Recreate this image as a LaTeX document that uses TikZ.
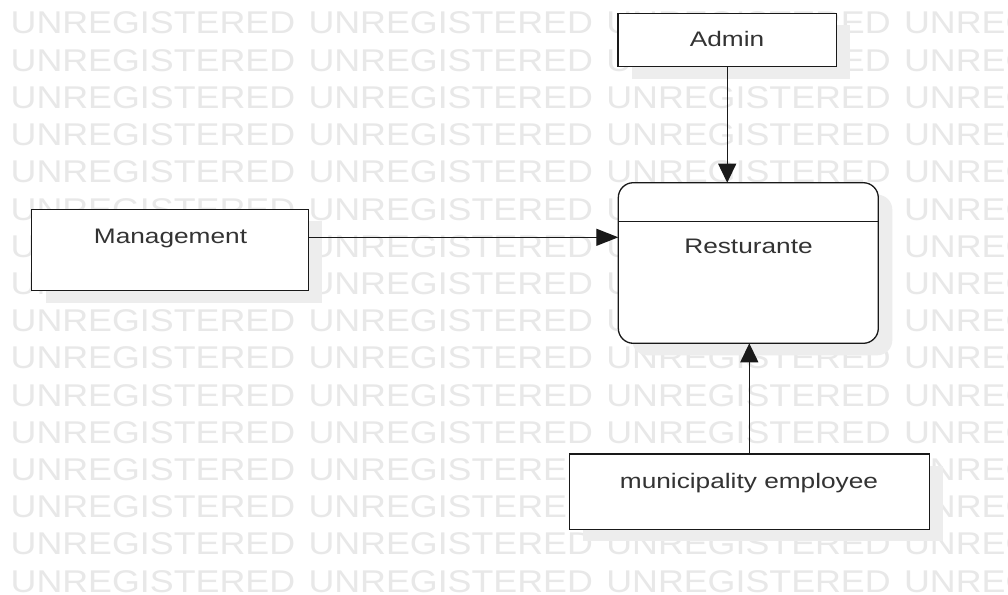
\documentclass[tikz,border=0pt]{standalone}
\usepackage{fontspec}
\setmainfont{Liberation Sans}
\usetikzlibrary{arrows.meta,shadows}

\tikzset{
  wmark/.style={anchor=base west, inner sep=0pt, text=black!9,
    font=\fontsize{31.4}{36}\selectfont},
  entity/.style={draw=black!90, fill=white, line width=1.3pt, inner sep=0pt,
    outer sep=0pt,
    drop shadow={shadow xshift=14pt, shadow yshift=-12pt, fill=black!7, opacity=1}},
  lbl/.style={anchor=base, inner sep=0pt, text=black!80,
    font=\fontsize{21}{25}\selectfont},
  flow/.style={draw=black!90, line width=1.3pt},
  vhead/.style={flow, -{Triangle[length=19pt, width=18pt]}},
  hhead/.style={flow, -{Triangle[length=22pt, width=17pt]}},
}
\newcommand{\stretchtext}[2]{\scalebox{#1}[1]{#2}}

\begin{document}
\begin{tikzpicture}[x=1pt, y=-1pt]
  \useasboundingbox (0,0) rectangle (1008,594);
  \fill[white] (0,0) rectangle (1008,594);

  % repeated background stamp
  \begin{scope}
    \clip (0,0) rectangle (1008,594);
    \foreach \r in {0,...,15}{
      \foreach \c in {0,...,3}{
        \node[wmark] (wm-\r-\c) at ({10.5+297.8*\c},{34+37.2*\r})
          {\stretchtext{1.14}{UNREGISTERED}};
      }
    }
  \end{scope}

  % entities
  \node[entity, minimum width=218.3pt, minimum height=53.4pt]
    (admin) at (727.2,40) {};
  \node[entity, minimum width=276.6pt, minimum height=81.4pt]
    (mgmt) at (170,250) {};
  \node[entity, rounded corners=15pt, minimum width=260pt, minimum height=160.6pt]
    (rest) at (748.3,263) {};
  \node[entity, minimum width=360pt, minimum height=75.3pt]
    (muni) at (749.3,491.7) {};

  % header divider of the process box
  \coordinate (divl) at ([yshift=-38.9pt]rest.north west);
  \coordinate (divr) at ([yshift=-38.9pt]rest.north east);
  \draw[flow] (divl) -- (divr);

  % labels
  \node[lbl] (adminlbl) at (727,46.7) {\stretchtext{1.25}{Admin}};
  \node[lbl] (mgmtlbl) at (170.5,243.3) {\stretchtext{1.25}{Management}};
  \node[lbl] (restlbl) at (748.5,253.3) {\stretchtext{1.25}{Resturante}};
  \node[lbl] (munilbl) at (749,488) {\stretchtext{1.25}{municipality employee}};

  % data flows
  \draw[vhead] (admin.south) -- (admin.south |- rest.north);
  \coordinate (mgmtout) at ([yshift=12.7pt]mgmt.east);
  \draw[hhead] (mgmtout) -- (mgmtout -| rest.west);
  \draw[vhead] (muni.north) -- (muni.north |- rest.south);
\end{tikzpicture}
\end{document}
